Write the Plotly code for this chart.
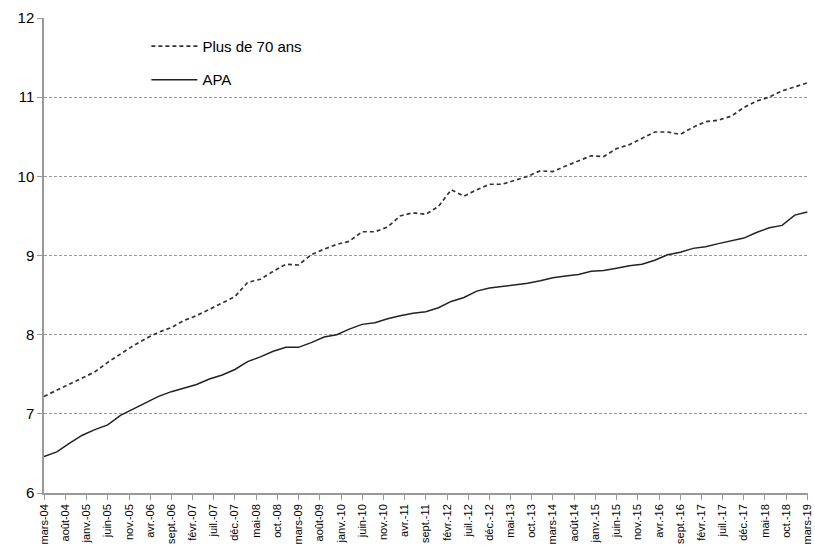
import pandas as pd
import plotly.graph_objects as go

# Quarterly observations from mars-04 to mars-19
quarters = pd.date_range("2004-03-01", "2019-03-01", freq="3MS")

plus_70 = [7.22, 7.30, 7.38, 7.45, 7.53, 7.65, 7.76, 7.86, 7.95, 8.03,
           8.09, 8.18, 8.24, 8.32, 8.40, 8.48, 8.66, 8.70, 8.80, 8.89,
           8.88, 9.01, 9.08, 9.14, 9.18, 9.30, 9.30, 9.36, 9.50, 9.54,
           9.52, 9.62, 9.83, 9.75, 9.83, 9.90, 9.90, 9.95, 10.00, 10.07,
           10.06, 10.13, 10.20, 10.26, 10.25, 10.35, 10.40, 10.48, 10.56, 10.56,
           10.53, 10.62, 10.69, 10.71, 10.76, 10.87, 10.95, 11.00, 11.08, 11.13,
           11.18]

apa = [6.46, 6.52, 6.63, 6.73, 6.80, 6.86, 6.98, 7.06, 7.14, 7.22,
       7.28, 7.33, 7.37, 7.44, 7.49, 7.56, 7.66, 7.72, 7.79, 7.84,
       7.84, 7.90, 7.97, 8.00, 8.07, 8.13, 8.15, 8.20, 8.24, 8.27,
       8.29, 8.34, 8.42, 8.47, 8.55, 8.59, 8.61, 8.63, 8.65, 8.68,
       8.72, 8.74, 8.76, 8.80, 8.81, 8.84, 8.87, 8.89, 8.94, 9.01,
       9.04, 9.09, 9.11, 9.15, 9.19, 9.22, 9.29, 9.35, 9.38, 9.51,
       9.55]

tick_dates = pd.date_range("2004-03-01", "2019-03-01", freq="5MS")
tick_labels = ["mars-04", "août-04", "janv.-05", "juin-05", "nov.-05", "avr.-06",
               "sept.-06", "févr.-07", "juil.-07", "déc.-07", "mai-08", "oct.-08",
               "mars-09", "août-09", "janv.-10", "juin-10", "nov.-10", "avr.-11",
               "sept.-11", "févr.-12", "juil.-12", "déc.-12", "mai-13", "oct.-13",
               "mars-14", "août-14", "janv.-15", "juin-15", "nov.-15", "avr.-16",
               "sept.-16", "févr.-17", "juil.-17", "déc.-17", "mai-18", "oct.-18",
               "mars-19"]

fig = go.Figure()
fig.add_trace(go.Scatter(x=quarters, y=plus_70, mode="lines", name="Plus de 70 ans",
                         legendgroup="a",
                         line=dict(color="#333333", width=1.7, dash="4px,3px")))
fig.add_trace(go.Scatter(x=quarters, y=apa, mode="lines", name="APA",
                         legendgroup="b",
                         line=dict(color="#222222", width=1.5)))

fig.update_layout(
    width=815, height=546,
    margin=dict(l=44, r=2, t=18, b=52),
    paper_bgcolor="white", plot_bgcolor="white",
    font=dict(family="Liberation Sans, Arial, sans-serif", color="#000000"),
    showlegend=True,
    legend=dict(x=0.134, y=0.975, xanchor="left", yanchor="top",
                bgcolor="rgba(0,0,0,0)", font=dict(size=15), tracegroupgap=11,
                itemwidth=46),
    xaxis=dict(
        range=[quarters[0], pd.Timestamp("2019-03-06")],
        tickvals=tick_dates, ticktext=tick_labels, tickangle=-90,
        tickfont=dict(size=11), showgrid=False, zeroline=False,
        showline=True, linecolor="#999999", linewidth=1.5,
        ticks="outside", ticklen=5, tickcolor="#999999",
        ticklabeloverflow="allow",
    ),
    yaxis=dict(
        range=[6, 12], dtick=1, tickfont=dict(size=15),
        showgrid=True, gridcolor="#999999", griddash="3px,2px", gridwidth=1,
        zeroline=False, showline=True, linecolor="#999999", linewidth=1.5,
        ticks="outside", ticklen=5, tickcolor="#999999",
    ),
)

fig.write_html("out.html", config={"displayModeBar": False},
               post_script="document.body.style.margin='0';")
